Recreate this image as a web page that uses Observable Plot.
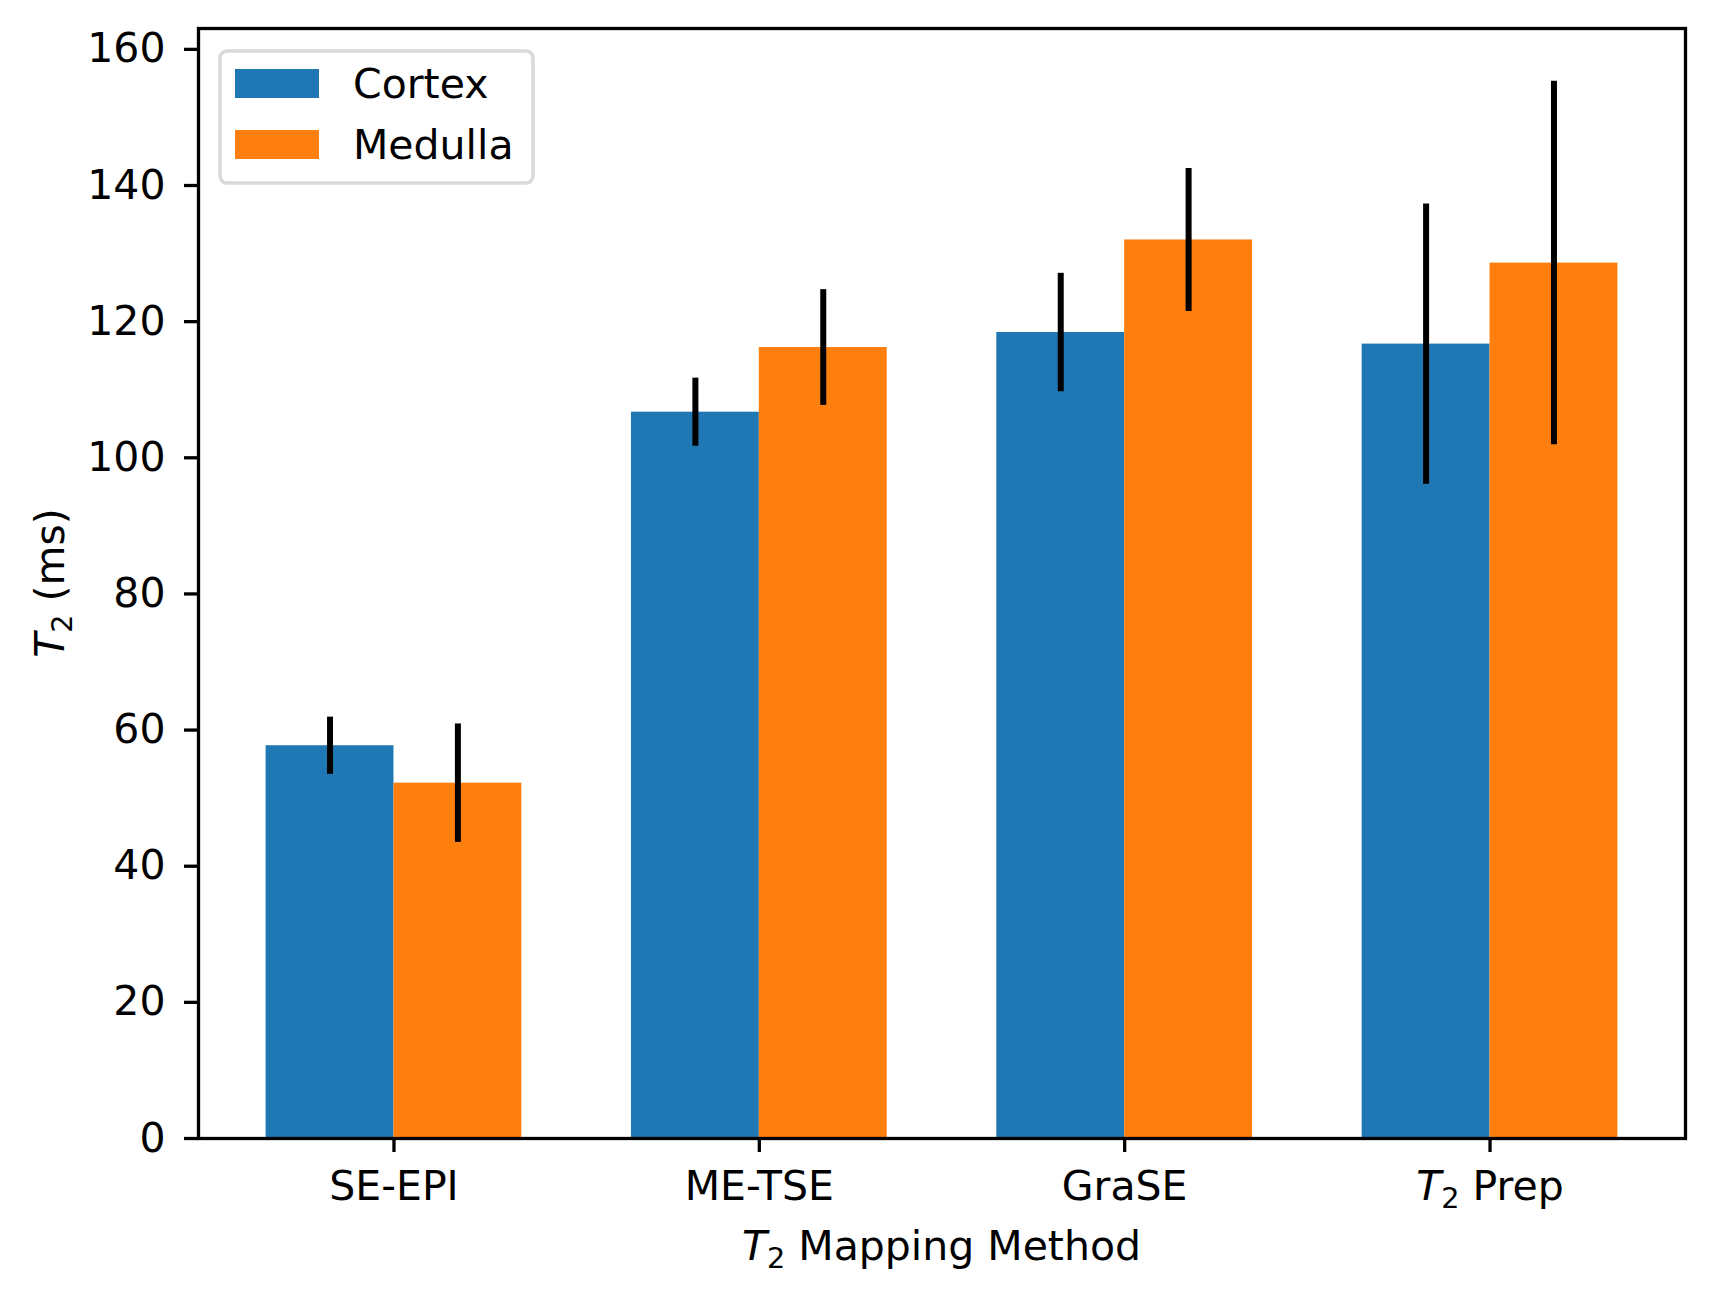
<!DOCTYPE html>
<html><head><meta charset="utf-8">
<script src="https://cdn.jsdelivr.net/npm/d3@7"></script>
<script src="https://cdn.jsdelivr.net/npm/@observablehq/plot@0.6"></script>
<style>
html,body{margin:0;padding:0;background:#fff;}
#chart svg{display:block;}
</style></head><body><div id="chart"></div>
<script>
const methods = ["SE-EPI", "ME-TSE", "GraSE", "T2 Prep"];
const regions = ["Cortex", "Medulla"];
const cortexMean = [57.7, 106.7, 118.4, 116.7];
const cortexErr = [4.2, 5.0, 8.7, 20.6];
const medullaMean = [52.2, 116.2, 132.0, 128.6];
const medullaErr = [8.7, 8.5, 10.5, 26.7];
const yTicks = [0, 20, 40, 60, 80, 100, 120, 140, 160];
const colors = ["#1f77b4", "#ff7f0e"];
const barWidth = 0.35;

const rows = [];
methods.forEach((m, i) => {
  rows.push({method: m, region: "Cortex", mean: cortexMean[i], err: cortexErr[i], x1: i - barWidth, x2: i});
  rows.push({method: m, region: "Medulla", mean: medullaMean[i], err: medullaErr[i], x1: i, x2: i + barWidth});
});

const xMin = -barWidth, xMax = methods.length - 1 + barWidth;
const xPad = (xMax - xMin) * 0.05;
const yMax = d3.max(rows, d => d.mean + d.err) * 1.05;

const FS = 41;
const W = 1714, H = 1301;
const mL = 198, mR = 29, mT = 28, mB = 163;

const chart = Plot.plot({
  width: W, height: H,
  marginLeft: mL, marginRight: mR, marginTop: mT, marginBottom: mB,
  style: {fontFamily: "DejaVu Sans", fontSize: FS + "px", color: "black", background: "white"},
  x: {domain: [xMin - xPad, xMax + xPad]},
  y: {domain: [0, yMax]},
  color: {domain: regions, range: colors},
  marks: [
    Plot.rectY(rows, {x1: "x1", x2: "x2", y1: 0, y2: "mean", fill: "region", inset: 0}),
    Plot.ruleX(rows, {x: d => (d.x1 + d.x2) / 2, y1: d => d.mean - d.err, y2: d => d.mean + d.err, stroke: "black", strokeWidth: 6}),
    Plot.axisY({ticks: yTicks, tickSize: 14, tickPadding: 19, strokeWidth: 3.3, label: null, fontSize: FS}),
    Plot.axisX({ticks: d3.range(methods.length), tickFormat: i => methods[i], tickSize: 14, tickPadding: 18, strokeWidth: 3.3, label: null, fontSize: FS}),
    Plot.frame({stroke: "black", strokeWidth: 3.3})
  ]
});

document.getElementById("chart").appendChild(chart);
const svg = d3.select(chart);

// mathtext-like T_2 in tick label
svg.selectAll("g[aria-label='x-axis tick label'] text").each(function() {
  const t = d3.select(this);
  if (t.text() === "T2 Prep") {
    t.text(null);
    t.append("tspan").attr("font-style", "italic").text("T");
    t.append("tspan").attr("font-size", (FS * 0.7) + "px").attr("dy", "8").text("2");
    t.append("tspan").attr("dy", "-8").text(" Prep");
  }
});

function mathLabel(g, rest) {
  g.append("tspan").attr("font-style", "italic").text("T");
  g.append("tspan").attr("font-size", (FS * 0.7) + "px").attr("dy", "8").text("2");
  g.append("tspan").attr("dy", "-8").text(rest);
}

// axis titles
const xl = svg.append("text").attr("x", (mL + W - mR) / 2).attr("y", 1260)
  .attr("text-anchor", "middle").attr("font-family", "DejaVu Sans").attr("font-size", FS + "px").attr("fill", "black");
mathLabel(xl, " Mapping Method");
const yl = svg.append("text").attr("transform", `translate(64,${(mT + H - mB) / 2}) rotate(-90)`)
  .attr("text-anchor", "middle").attr("font-family", "DejaVu Sans").attr("font-size", FS + "px").attr("fill", "black");
mathLabel(yl, " (ms)");

// legend
const lg = svg.append("g");
lg.append("rect").attr("x", 220).attr("y", 51).attr("width", 313).attr("height", 132)
  .attr("rx", 7).attr("fill", "white").attr("fill-opacity", 0.8).attr("stroke", "#d9d9d9").attr("stroke-width", 3.5);
regions.forEach((r, k) => {
  const yy = 69 + k * 61;
  lg.append("rect").attr("x", 235).attr("y", yy).attr("width", 84).attr("height", 29).attr("fill", colors[k]);
  lg.append("text").attr("x", 353).attr("y", yy + 14.5).attr("dy", "0.36em").attr("text-anchor", "start")
    .attr("font-family", "DejaVu Sans").attr("font-size", FS + "px").attr("fill", "black").text(r);
});
</script>
</body></html>
